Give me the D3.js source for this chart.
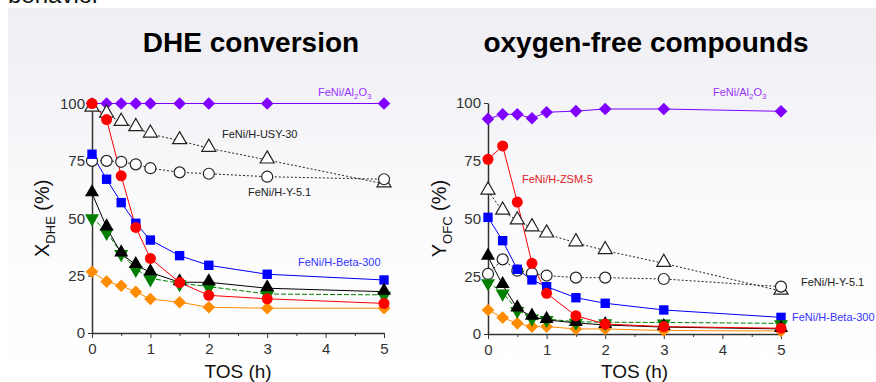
<!DOCTYPE html>
<html>
<head>
<meta charset="utf-8">
<script src="https://cdn.jsdelivr.net/npm/d3@7"></script>
<style>
  body { margin: 0; background: #fff; }
  svg { display: block; font-family: "Liberation Sans", Arial, sans-serif; }
</style>
</head>
<body>
<div id="chart"></div>
<script>
// 取樣時間 (h)
const tos = [0, 0.25, 0.5, 0.75, 1, 1.5, 2, 3, 5];

// DHE conversion (%)
const convAl2O3 = [100, 100, 100, 100, 100, 100, 100, 100, 100];
const convZSM5 = [100, 93, 68.5, 46, 32.5, 22, 16.4, 14.9, 12.9];
const convUSY30 = [98, 95.4, 91.8, 89.5, 86.7, 83.8, 80.5, 75.4, 65];
const convY51 = [75, 75, 74.6, 73.5, 71.8, 70, 69.4, 68.1, 67];
const convBeta300 = [77.9, 67, 56.8, 47.8, 40.5, 33.7, 29.5, 25.6, 23.1];
const convBlack = [60.9, 46, 34.7, 29.6, 26.4, 22.1, 22.1, 19.5, 18];
const convGreen = [50.4, 44.1, 34.8, 27.9, 23.8, 21.7, 20.2, 17, 16.6];
const convOrange = [26.7, 22.4, 20.6, 17.9, 14.8, 13.4, 11.2, 10.8, 10.8];

// oxygen-free compounds yield (%)
const yieldAl2O3 = [93.1, 95.1, 95.1, 93.4, 96, 96.5, 97.4, 97.4, 96.4];
const yieldZSM5 = [75.6, 81.4, 57.1, 30.6, 17.6, 7.9, 4.3, 3.2, 2.5];
const yieldUSY30 = [61.9, 53.2, 49, 46, 43.3, 39.5, 36.1, 30.6, 18.6];
const yieldY51 = [26, 32.3, 27.4, 26.3, 25.3, 24.4, 24.4, 23.8, 20.5];
const yieldBeta300 = [50.5, 40.4, 28, 23.4, 20.5, 15.7, 13.3, 10.4, 7.2];
const yieldBlack = [33.5, 21.2, 11.1, 7.5, 6.1, 4.8, 3.9, 3, 2.2];
const yieldGreen = [22.4, 17.9, 10.4, 7.1, 6.5, 5.3, 5.1, 5, 4.6];
const yieldOrange = [10.4, 7.1, 4.6, 3.2, 3.2, 2.2, 2.2, 1.5, 1.3];

const yTicks = [0, 25, 50, 75, 100];
const xTicks = [0, 1, 2, 3, 4, 5];

const width = 876, height = 382;

const svg = d3.select("#chart").append("svg")
  .attr("width", width)
  .attr("height", height);

// 背景漸層
const defs = svg.append("defs");
const grad = defs.append("linearGradient")
  .attr("id", "bg").attr("x1", 0).attr("y1", 0).attr("x2", 0).attr("y2", 1);
grad.append("stop").attr("offset", "0%").attr("stop-color", "#eeeef3");
grad.append("stop").attr("offset", "55%").attr("stop-color", "#fbfbfd");
grad.append("stop").attr("offset", "100%").attr("stop-color", "#ffffff");

svg.append("rect")
  .attr("x", 8).attr("y", 8)
  .attr("width", width - 8).attr("height", height - 8)
  .attr("fill", "url(#bg)");

// 上方被裁切的文字
svg.append("text")
  .attr("x", 8).attr("y", 3)
  .style("font-size", "24px")
  .attr("fill", "#111")
  .text("behavior");

// 系列樣式
function seriesDefs(vals) {
  return [
    { name: "al2o3", values: vals[0], color: "#7f00ff", fill: "#7f00ff", shape: "diamond", dash: null },
    { name: "usy30", values: vals[2], color: "#222", fill: "#fff", shape: "triangle", dash: "2,2" },
    { name: "y51", values: vals[3], color: "#222", fill: "#fff", shape: "circle", dash: "2,2" },
    { name: "beta300", values: vals[4], color: "#0000ff", fill: "#0000ff", shape: "square", dash: null },
    { name: "orange", values: vals[7], color: "#ff8c00", fill: "#ff8c00", shape: "diamond", dash: null },
    { name: "green", values: vals[6], color: "#007f00", fill: "#007f00", shape: "triangleDown", dash: "5,2" },
    { name: "black", values: vals[5], color: "#000", fill: "#000", shape: "triangle", dash: null },
    { name: "zsm5", values: vals[1], color: "#ff0000", fill: "#ff0000", shape: "circle", dash: null }
  ];
}

function symbolPath(shape) {
  if (shape === "diamond") return d3.symbol().type(d3.symbolSquare).size(80)();
  if (shape === "square") return d3.symbol().type(d3.symbolSquare).size(88)();
  if (shape === "circle") return d3.symbol().type(d3.symbolCircle).size(95)();
  return d3.symbol().type(d3.symbolTriangle).size(85)();
}

function symbolTransform(shape, x, y) {
  if (shape === "diamond") return `translate(${x},${y}) rotate(45)`;
  if (shape === "triangleDown") return `translate(${x},${y + 1}) rotate(180)`;
  if (shape === "triangle") return `translate(${x},${y - 1})`;
  return `translate(${x},${y})`;
}

function drawPanel(opt) {
  const x = d3.scaleLinear().domain([0, 5]).range(opt.xRange);
  const y = d3.scaleLinear().domain([0, 100]).range(opt.yRange);
  const g = svg.append("g");

  // 標題
  g.append("text")
    .attr("x", opt.titleX).attr("y", 52)
    .attr("text-anchor", "middle")
    .style("font-size", "28px").style("font-weight", "bold")
    .attr("fill", "#000")
    .text(opt.title);

  // y 軸
  const yAxis = g.append("g")
    .attr("transform", `translate(${opt.xRange[0]},0)`)
    .call(d3.axisLeft(y).tickValues(yTicks).tickSize(4).tickSizeOuter(0).tickPadding(3));
  yAxis.select(".domain").attr("stroke", "#333").attr("stroke-width", 1.5);
  yAxis.selectAll(".tick line").attr("stroke", "#333");
  yAxis.selectAll("text").style("font-size", "15px").attr("fill", "#333");

  // x 軸
  const xAxis = g.append("g")
    .attr("transform", `translate(0,${opt.yRange[0]})`)
    .call(d3.axisBottom(x).tickValues(xTicks).tickFormat(d3.format("d"))
      .tickSize(5).tickSizeOuter(0).tickPadding(5));
  xAxis.select(".domain").attr("stroke", "#333").attr("stroke-width", 1.5);
  xAxis.selectAll(".tick line").attr("stroke", "#333");
  xAxis.selectAll("text").style("font-size", "15px").attr("fill", "#333");

  // 次刻度
  g.append("g")
    .attr("transform", `translate(0,${opt.yRange[0]})`)
    .call(d3.axisBottom(x).tickValues([0.5, 1.5, 2.5, 3.5, 4.5]).tickSize(3).tickFormat(""))
    .call((a) => a.select(".domain").remove())
    .selectAll(".tick line").attr("stroke", "#333");

  // 軸標題
  g.append("text")
    .attr("x", (opt.xRange[0] + opt.xRange[1]) / 2).attr("y", 378)
    .attr("text-anchor", "middle")
    .style("font-size", "19px").attr("fill", "#111")
    .text("TOS (h)");

  const yl = g.append("text")
    .attr("transform", `translate(${opt.yLabelX},${(opt.yRange[0] + opt.yRange[1]) / 2}) rotate(-90)`)
    .attr("text-anchor", "middle")
    .style("font-size", "20px").attr("fill", "#111");
  yl.append("tspan").text(opt.yMain);
  yl.append("tspan").attr("dy", 6).style("font-size", "13px").text(opt.ySub);
  yl.append("tspan").attr("dy", -6).text(" (%)");

  const series = seriesDefs(opt.values);
  const line = d3.line()
    .x((d, i) => x(tos[i]))
    .y((d) => y(d));

  series.forEach((s) => {
    g.append("path")
      .datum(s.values)
      .attr("fill", "none")
      .attr("stroke", s.color)
      .attr("stroke-width", 1)
      .attr("stroke-dasharray", s.dash)
      .attr("d", line);
  });

  series.forEach((s) => {
    g.selectAll(null)
      .data(s.values)
      .enter()
      .append("path")
      .attr("d", symbolPath(s.shape))
      .attr("transform", (d, i) => symbolTransform(s.shape, x(tos[i]), y(d)))
      .attr("fill", s.fill)
      .attr("stroke", s.fill === "#fff" ? "#222" : "none")
      .attr("stroke-width", 1.2);
  });

  // 系列標籤
  opt.labels.forEach((l) => {
    const t = g.append("text")
      .attr("x", l.x).attr("y", l.y)
      .style("font-size", "11px")
      .attr("fill", l.color);
    if (l.sub) {
      t.append("tspan").text("FeNi/Al");
      t.append("tspan").attr("dy", 3).style("font-size", "8px").text("2");
      t.append("tspan").attr("dy", -3).text("O");
      t.append("tspan").attr("dy", 3).style("font-size", "8px").text("3");
    } else {
      t.text(l.text);
    }
  });
}

drawPanel({
  title: "DHE conversion",
  titleX: 251,
  xRange: [92, 384],
  yRange: [333, 103.5],
  yLabelX: 49,
  yMain: "X",
  ySub: "DHE",
  values: [convAl2O3, convZSM5, convUSY30, convY51, convBeta300, convBlack, convGreen, convOrange],
  labels: [
    { sub: true, x: 318, y: 96, color: "#9933ff" },
    { text: "FeNi/H-USY-30", x: 222, y: 138, color: "#222" },
    { text: "FeNi/H-Y-5.1", x: 248, y: 196, color: "#222" },
    { text: "FeNi/H-Beta-300", x: 298, y: 266, color: "#3333ff" }
  ]
});

drawPanel({
  title: "oxygen-free compounds",
  titleX: 646,
  xRange: [488, 781],
  yRange: [334, 103],
  yLabelX: 446,
  yMain: "Y",
  ySub: "OFC",
  values: [yieldAl2O3, yieldZSM5, yieldUSY30, yieldY51, yieldBeta300, yieldBlack, yieldGreen, yieldOrange],
  labels: [
    { sub: true, x: 713, y: 96, color: "#9933ff" },
    { text: "FeNi/H-ZSM-5", x: 522, y: 183, color: "#e02020" },
    { text: "FeNi/H-Y-5.1", x: 801, y: 286, color: "#222" },
    { text: "FeNi/H-Beta-300", x: 792, y: 321, color: "#3333ff" }
  ]
});
</script>
</body>
</html>
